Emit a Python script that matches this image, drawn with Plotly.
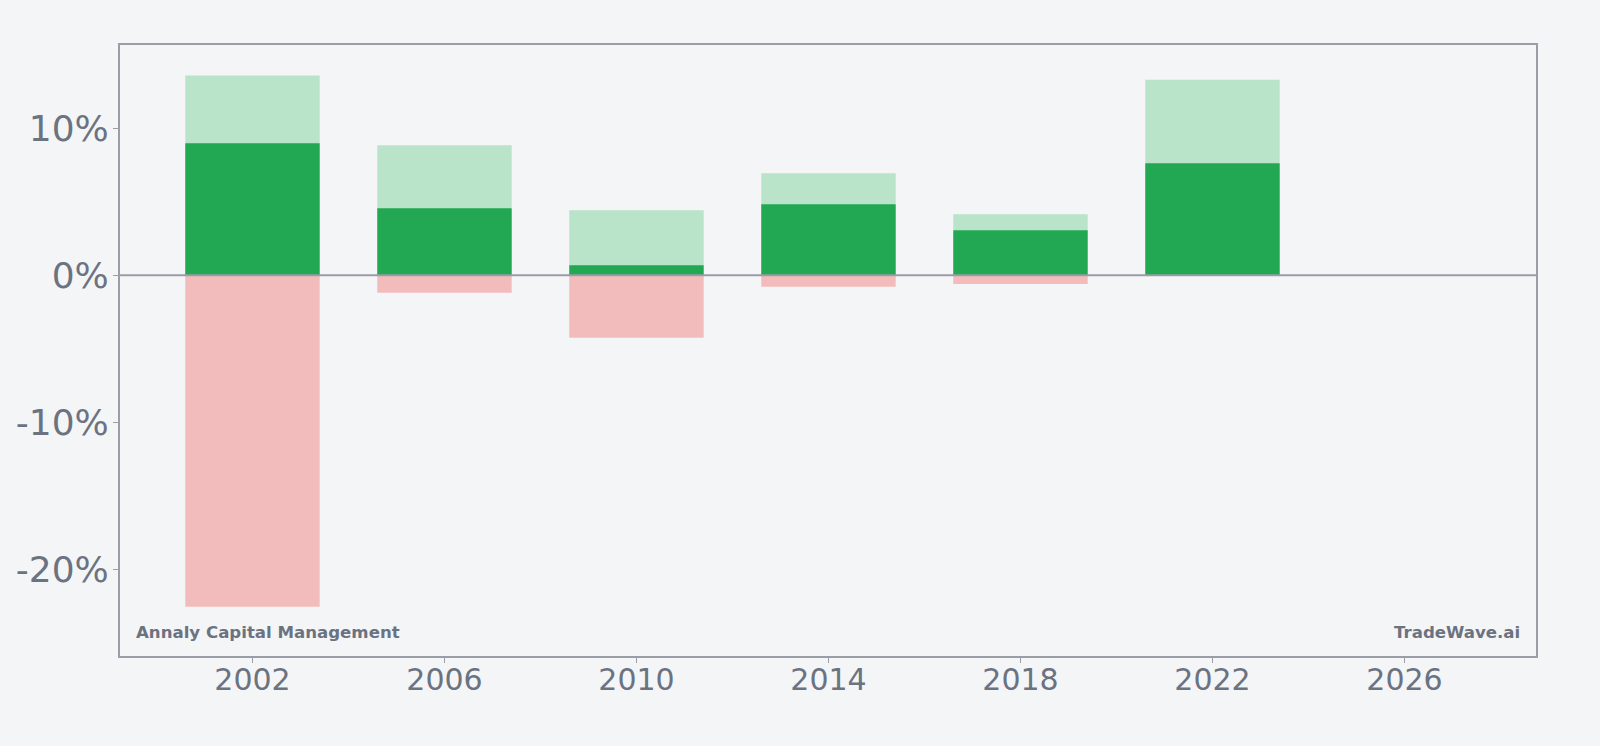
import plotly.graph_objects as go

years = [2002, 2006, 2010, 2014, 2018, 2022]
max_vals = [13.6, 8.84, 4.42, 6.94, 4.15, 13.3]
mean_vals = [8.98, 4.56, 0.68, 4.83, 3.06, 7.62]
min_vals = [-22.56, -1.2, -4.26, -0.79, -0.59, 0.0]
y_ticks = [-20, -10, 0, 10]
y_tick_labels = ["-20%", "-10%", "0%", "10%"]
x_ticks = [2002, 2006, 2010, 2014, 2018, 2022, 2026]

BG = "#f4f5f7"
AXIS = "#9a9ca6"
TXT = "#6b7280"
W = 2.8

fig = go.Figure()
fig.add_trace(go.Bar(x=years, y=max_vals, width=W, marker=dict(color="#b9e4c9", line=dict(width=0)), name="max"))
fig.add_trace(go.Bar(x=years, y=mean_vals, width=W, marker=dict(color="#22a852", line=dict(width=0)), name="mean"))
fig.add_trace(go.Bar(x=years, y=min_vals, width=W, marker=dict(color="#f3bcbc", line=dict(width=0)), name="min"))

fig.add_shape(type="line", xref="paper", yref="y", x0=0, x1=1, y0=0, y1=0,
              line=dict(color=AXIS, width=2), layer="above")

fig.add_annotation(text="<b>Annaly Capital Management</b>", xref="paper", yref="paper",
                   x=0.01, y=0.02, xanchor="left", yanchor="bottom", showarrow=False,
                   font=dict(family="DejaVu Sans", size=16.6, color=TXT))
fig.add_annotation(text="<b>TradeWave.ai</b>", xref="paper", yref="paper",
                   x=0.99, y=0.02, xanchor="right", yanchor="bottom", showarrow=False,
                   font=dict(family="DejaVu Sans", size=16.6, color=TXT))

fig.update_layout(
    width=1600, height=746,
    barmode="overlay",
    showlegend=False,
    paper_bgcolor=BG, plot_bgcolor=BG,
    margin=dict(l=120, r=64, t=45, b=90),
    font=dict(family="DejaVu Sans", color=TXT),
    xaxis=dict(range=[1999.24, 2028.74], tickvals=x_ticks, showgrid=False, zeroline=False,
               showline=True, mirror=True, linecolor=AXIS, linewidth=2,
               ticks="outside", ticklen=5, tickcolor=AXIS, tickwidth=1,
               ticklabelstandoff=-9,
               tickfont=dict(size=30, color=TXT)),
    yaxis=dict(range=[-25.92, 15.67], tickvals=y_ticks, ticktext=y_tick_labels, showgrid=False,
               zeroline=False, showline=True, mirror=True, linecolor=AXIS, linewidth=2,
               ticks="outside", ticklen=5, tickcolor=AXIS, tickwidth=1,
               ticklabelstandoff=-3,
               tickfont=dict(size=36, color=TXT)),
)

fig.write_html("out.html")
